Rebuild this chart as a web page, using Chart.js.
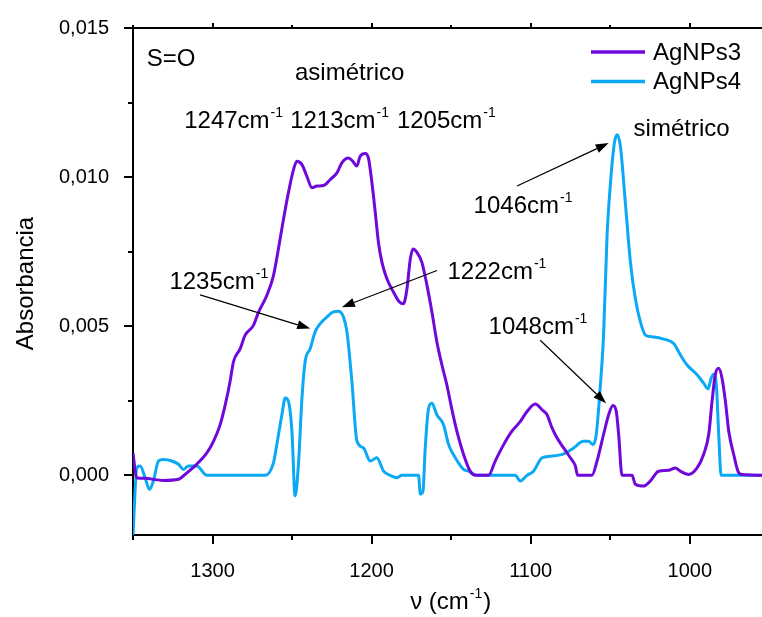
<!DOCTYPE html>
<html>
<head>
<meta charset="utf-8">
<script src="https://cdn.jsdelivr.net/npm/chart.js@4.4.1/dist/chart.umd.min.js"></script>
<style>
  html, body { margin: 0; padding: 0; background: #fff; }
  #wrap { width: 762px; height: 617px; }
</style>
</head>
<body>
<div id="wrap"><canvas id="ftir" width="762" height="617"></canvas></div>
<script>
(function () {
  'use strict';

  // ── Data ──────────────────────────────────────────────────────────────────
  const waveA3 = [
    1350, 1347.8, 1343, 1331, 1321.4, 1316, 1310, 1303.6, 1299.4, 1295.2,
    1292, 1289, 1286.9, 1282.6, 1279.5, 1274.3, 1271, 1265.9, 1261.7, 1258.6,
    1255.4, 1252.3, 1249.1, 1247, 1243.8, 1240.7, 1237.5, 1234.4, 1230.2, 1226,
    1221.8, 1218.7, 1214.5, 1211.8, 1209.3, 1207.2, 1204, 1202, 1199.8, 1197.7,
    1195.7, 1193.5, 1190.4, 1186.2, 1182.5, 1180, 1177.8, 1175.7, 1174, 1171.5,
    1168.4, 1165.2, 1162.1, 1159, 1155.8, 1152.7, 1149.5, 1146.4, 1142.2, 1138,
    1134, 1126.5, 1122.3, 1117, 1111.8, 1106.5, 1102.3, 1097.1, 1092.9, 1089.7,
    1086.6, 1083.4, 1079.3, 1075.1, 1071.9, 1070.5, 1061.5, 1058.3, 1054.2, 1051,
    1048.3, 1046.2, 1044.7, 1042.6, 1036.3, 1034.2, 1029, 1024.8, 1019.6, 1013.3,
    1009.1, 1006, 1000.8, 995.4, 991.3, 988.1, 986, 984, 981.8, 979.7,
    977.6, 975.5, 972.4, 969.3, 967.1, 950
  ];
  const absA3 = [
    0.00075, -0.00008, -0.0001, -0.00017, -0.00013, 0.00009, 0.00037, 0.00075, 0.00114, 0.0017,
    0.00237, 0.00314, 0.0038, 0.00425, 0.0047, 0.00503, 0.00548, 0.00603, 0.0067, 0.00759,
    0.00859, 0.00948, 0.01025, 0.01053, 0.01042, 0.01003, 0.00964, 0.0097, 0.00972, 0.00992,
    0.01014, 0.01048, 0.01064, 0.01053, 0.01037, 0.0107, 0.01079, 0.01064, 0.00981, 0.00881,
    0.00781, 0.00714, 0.00659, 0.00614, 0.00581, 0.00575, 0.00625, 0.00725, 0.00759, 0.00748,
    0.00714, 0.00637, 0.00548, 0.00448, 0.0037, 0.00303, 0.0022, 0.00148, 0.0007, 0.00014,
    0, 0, 0.00048, 0.00103, 0.00148, 0.00181, 0.00214, 0.00239, 0.0022, 0.00203,
    0.00159, 0.00125, 0.00092, 0.00059, 0.00031, 0, 0, 0.00048, 0.00137, 0.00203,
    0.00234, 0.00214, 0.00137, 0, 0, -0.0003, -0.00036, -0.00019, 0.00014, 0.00017,
    0.00025, 0.00014, 0.00003, 0.00025, 0.0007, 0.00137, 0.00248, 0.00337, 0.00359, 0.00325,
    0.00248, 0.00148, 0.0007, 0.00009, 0.00003, 0
  ];

  const waveA4 = [
    1350, 1347.6, 1345.5, 1342.4, 1339.7, 1337.2, 1334, 1331, 1325.6, 1321.4,
    1318.3, 1315.2, 1309.9, 1303.6, 1266.9, 1261.7, 1259.6, 1256.4, 1254.3, 1252.3,
    1250.1, 1248.1, 1246, 1243.8, 1241.8, 1238.6, 1235.5, 1232.3, 1228.1, 1224,
    1220.8, 1217.7, 1215.5, 1212.4, 1209.2, 1205.1, 1200.9, 1196.7, 1192.5, 1188.3,
    1184.1, 1181, 1170.5, 1169.4, 1167.7, 1166.3, 1164.2, 1162.1, 1159, 1154.8,
    1151.6, 1147.4, 1142.2, 1139.1, 1134.8, 1109.7, 1106.5, 1102.3, 1098.2, 1092.9,
    1087.7, 1079.3, 1073, 1066.8, 1063.6, 1060.8, 1058.8, 1056.2, 1054.2, 1052,
    1050, 1047.4, 1045.7, 1043.6, 1040.5, 1037.3, 1034.2, 1031, 1027.8, 1022.7,
    1016.4, 1010.1, 1005.8, 1001.7, 995.4, 991.3, 988.5, 986.6, 985, 983.3,
    981.8, 980.3, 950
  ];
  const absA4 = [
    -0.002, 0.00025, 0.00031, -0.00008, -0.00047, -0.00019, 0.00048, 0.00053, 0.00048, 0.00037,
    0.0002, 0.00031, 0.00031, 0, 0, 0.00042, 0.00103, 0.00203, 0.00259, 0.00248,
    0.00148, -0.00069, 0.00037, 0.00259, 0.00381, 0.00425, 0.00481, 0.00509, 0.00531, 0.00548,
    0.0055, 0.00531, 0.00481, 0.00314, 0.00114, 0.00092, 0.00048, 0.00059, 0.00014, 0,
    -0.00008, 0, 0, -0.00063, -0.00052, 0.00092, 0.00225, 0.00242, 0.00203, 0.0017,
    0.00103, 0.00059, 0.0002, 0.00014, 0, 0, -0.00019, 0, 0.00014, 0.00059,
    0.00064, 0.00072, 0.00092, 0.00114, 0.00114, 0.00103, 0.00137, 0.00303, 0.0047, 0.00803,
    0.0097, 0.01114, 0.01142, 0.01103, 0.00914, 0.00714, 0.00592, 0.00514, 0.0047, 0.00464,
    0.00457, 0.00442, 0.00403, 0.0037, 0.00337, 0.00309, 0.0029, 0.00325, 0.00339, 0.00303,
    0.00137, 0, 0
  ];

  const seriesNames = ['AgNPs3', 'AgNPs4'];

  // ── Axis ticks ───────────────────────────────────────────────────────────
  const xTickValues = [1350, 1300, 1250, 1200, 1150, 1100, 1050, 1000];
  const yTickValues = [0, 0.0025, 0.005, 0.0075, 0.01, 0.0125, 0.015];

  // ── Annotations (data units) ─────────────────────────────────────────────
  const peakTexts = ['1247', '1213', '1205', '1046', '1235', '1222', '1048'];
  const peakTextX = [1317.8, 1251.2, 1184.1, 1135.9, 1327.1, 1152.3, 1126.5];
  const peakTextY = [0.01164, 0.01164, 0.01164, 0.00881, 0.00625, 0.00659, 0.00475];

  const arrowFromX = [1307.8, 1158.9, 1108.6, 1094];
  const arrowFromY = [0.00605, 0.00687, 0.0097, 0.00453];
  const arrowToX   = [1238.6, 1218.7, 1051, 1052.6];
  const arrowToY   = [0.00492, 0.00564, 0.01114, 0.00242];

  const PURPLE = '#7008dc';
  const BLUE   = '#0aa8f5';
  const FONT   = "'Liberation Sans', Arial, sans-serif";

  function pairs(xs, ys) {
    return xs.map((x, i) => ({ x, y: ys[i] }));
  }

  // superscript "-1" after a text run
  function drawWithSup(ctx, base, sup, px, py, size, tail) {
    ctx.font = `${size}px ${FONT}`;
    ctx.fillText(base, px, py);
    let w = ctx.measureText(base).width;
    ctx.font = `${Math.round(size * 0.6)}px ${FONT}`;
    ctx.fillText(sup, px + w + 1, py - size * 0.45);
    w += ctx.measureText(sup).width + 2;
    if (tail) {
      ctx.font = `${size}px ${FONT}`;
      ctx.fillText(tail, px + w, py);
      w += ctx.measureText(tail).width;
    }
    return w;
  }

  function arrow(ctx, x1, y1, x2, y2) {
    const ang = Math.atan2(y2 - y1, x2 - x1);
    const hl = 13, hw = 4.5;
    const bx = x2 - hl * Math.cos(ang), by = y2 - hl * Math.sin(ang);
    ctx.beginPath();
    ctx.moveTo(x1, y1);
    ctx.lineTo(bx, by);
    ctx.stroke();
    ctx.beginPath();
    ctx.moveTo(x2, y2);
    ctx.lineTo(bx + hw * Math.sin(ang), by - hw * Math.cos(ang));
    ctx.lineTo(bx - hw * Math.sin(ang), by + hw * Math.cos(ang));
    ctx.closePath();
    ctx.fill();
  }

  const overlay = {
    id: 'overlay',
    afterDraw(chart) {
      const { ctx, chartArea: a, scales: { x, y } } = chart;
      ctx.save();
      ctx.strokeStyle = '#000';
      ctx.fillStyle = '#000';

      // frame top line
      ctx.lineWidth = 2;
      ctx.beginPath();
      ctx.moveTo(a.left - 1, a.top);
      ctx.lineTo(a.right, a.top);
      ctx.stroke();

      // tick marks: major long, minor short
      ctx.lineWidth = 2;
      xTickValues.forEach(v => {
        const px = Math.round(x.getPixelForValue(v));
        const major = v % 100 === 0;
        ctx.beginPath();
        ctx.moveTo(px, a.bottom);
        ctx.lineTo(px, a.bottom + (major ? 9 : 5));
        ctx.moveTo(px, a.top);
        ctx.lineTo(px, a.top - (major ? 5 : 3));
        ctx.stroke();
      });
      yTickValues.forEach((v, i) => {
        const py = Math.round(y.getPixelForValue(v));
        const major = i % 2 === 0;
        ctx.beginPath();
        ctx.moveTo(a.left, py);
        ctx.lineTo(a.left - (major ? 9 : 5), py);
        ctx.stroke();
      });

      // axis titles
      ctx.textAlign = 'left';
      ctx.textBaseline = 'alphabetic';
      ctx.font = `24px ${FONT}`;
      const xt = 'ν (cm';
      const wTitle = ctx.measureText(xt).width + 14 + ctx.measureText(')').width;
      drawWithSup(ctx, xt, '-1', (a.left + 760) / 2 + 4 - wTitle / 2, 609, 24, ')');

      ctx.save();
      ctx.translate(33, (a.top + a.bottom) / 2 + 2);
      ctx.rotate(-Math.PI / 2);
      ctx.textAlign = 'center';
      ctx.font = `24px ${FONT}`;
      ctx.fillText('Absorbancia', 0, 0);
      ctx.restore();

      // free texts
      ctx.font = `24px ${FONT}`;
      ctx.fillText('S=O', x.getPixelForValue(1341.3), y.getPixelForValue(0.01372));
      ctx.textAlign = 'center';
      ctx.fillText('asimétrico', x.getPixelForValue(1213.8), y.getPixelForValue(0.01325));
      ctx.textAlign = 'left';
      ctx.fillText('simétrico', x.getPixelForValue(1035.3), y.getPixelForValue(0.01137));

      peakTexts.forEach((t, i) => {
        drawWithSup(ctx, t + 'cm', '-1',
          x.getPixelForValue(peakTextX[i]), y.getPixelForValue(peakTextY[i]), 24);
      });

      // arrows
      ctx.lineWidth = 1.2;
      arrowFromX.forEach((_, i) => {
        arrow(ctx,
          x.getPixelForValue(arrowFromX[i]), y.getPixelForValue(arrowFromY[i]),
          x.getPixelForValue(arrowToX[i]), y.getPixelForValue(arrowToY[i]));
      });

      // legend
      const colors = [PURPLE, BLUE];
      seriesNames.forEach((name, i) => {
        const ly = a.top + 24 + i * 29.5;
        ctx.strokeStyle = colors[i];
        ctx.lineWidth = 3.5;
        ctx.beginPath();
        ctx.moveTo(a.right - 171, ly);
        ctx.lineTo(a.right - 117, ly);
        ctx.stroke();
        ctx.fillStyle = '#000';
        ctx.font = `24px ${FONT}`;
        ctx.textBaseline = 'middle';
        ctx.fillText(name, a.right - 109, ly + 1);
      });

      ctx.restore();
    }
  };

  new Chart(document.getElementById('ftir'), {
    type: 'line',
    data: {
      datasets: [
        {
          label: seriesNames[0],
          data: pairs(waveA3, absA3),
          borderColor: PURPLE,
          borderWidth: 3,
          pointRadius: 0,
          cubicInterpolationMode: 'monotone',
          borderJoinStyle: 'round',
        },
        {
          label: seriesNames[1],
          data: pairs(waveA4, absA4),
          borderColor: BLUE,
          borderWidth: 3,
          pointRadius: 0,
          cubicInterpolationMode: 'monotone',
          borderJoinStyle: 'round',
        },
      ],
    },
    options: {
      responsive: false,
      animation: false,
      layout: { padding: { top: 24, right: 0, bottom: 0, left: 0 } },
      plugins: {
        legend: { display: false },
        tooltip: { enabled: false },
      },
      scales: {
        x: {
          type: 'linear',
          reverse: true,
          min: 954.6,
          max: 1350,
          afterFit: s => { s.height = 82; },
          afterBuildTicks: s => { s.ticks = xTickValues.map(v => ({ value: v })); },
          grid: { display: false },
          border: { display: true, color: '#000', width: 2 },
          ticks: {
            autoSkip: false,
            maxRotation: 0,
            padding: 16,
            color: '#000',
            font: { family: FONT, size: 20 },
            callback: v => (v % 100 === 0 && v !== 1350 ? String(v) : ''),
          },
        },
        y: {
          min: -0.002,
          max: 0.015,
          afterFit: s => { s.width = 133; },
          afterBuildTicks: s => { s.ticks = yTickValues.map(v => ({ value: v })); },
          grid: { display: false },
          border: { display: true, color: '#000', width: 2 },
          ticks: {
            autoSkip: false,
            padding: 16,
            color: '#000',
            font: { family: FONT, size: 20 },
            callback: (v, i) => (i % 2 === 0 ? v.toFixed(3).replace('.', ',') : ''),
          },
        },
      },
    },
    plugins: [overlay],
  });
})();
</script>
</body>
</html>
